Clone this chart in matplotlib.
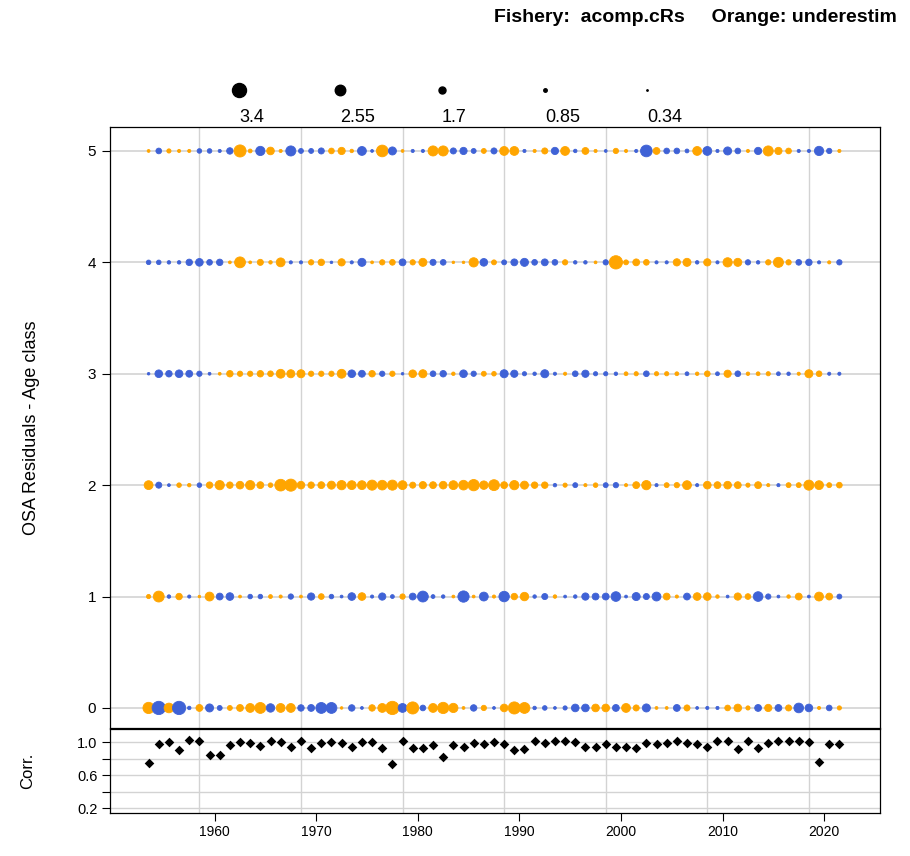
import numpy as np
import matplotlib.pyplot as plt

plt.rcParams['font.family'] = ['Liberation Sans', 'DejaVu Sans']

years = np.arange(1955, 2024)
ages = [0, 1, 2, 3, 4, 5]

# OSA residuals by age (positive = orange, negative = blue)
res_age0 = [2.7, -3.2, 2.3, -3.2, -0.7, 1.6, -1.9, -1.1, 1.1, 1.6,
            2.1, 2.6, -2.0, 2.1, 2.1, -1.5, -1.6, -2.6, -2.6, 0.4,
            -1.5, -0.5, 1.5, 2.1, 3.2, -2.1, 2.9, -1.3, 2.1, 2.7,
            2.2, 0.5, -1.5, 1.2, -0.5, 1.8, 2.9, 2.6, -0.7, -1.0,
            -0.5, -0.9, -1.8, -1.8, 1.8, 1.8, -1.6, 2.1, 1.4, -1.9,
            0.5, 0.5, -1.6, 1.4, -0.5, -0.6, -0.6, 1.3, 1.8, 0.9,
            -1.6, 1.7, -1.6, 1.4, -2.3, -1.8, 0.6, -1.3, 0.9]
res_age1 = [0.9, 2.6, -0.7, 1.5, -0.6, 0.4, 2.1, -1.6, -1.8, 0.5,
            -1.0, -1.0, 0.8, 0.6, -1.2, 0.5, -1.7, 1.3, -1.0, -0.5,
            -1.8, 1.8, -0.6, -1.7, -0.8, 1.2, -1.6, -2.6, -0.8, -0.7,
            0.5, -2.7, 0.5, -2.1, 0.6, -2.5, 1.5, 2.0, -0.7, -1.4,
            0.7, -0.5, -0.7, -1.7, -1.6, -1.6, -2.3, -0.5, -1.9, -1.4,
            -2.1, 1.6, 0.6, -1.6, 1.8, 1.8, 0.7, -0.5, 1.7, 1.3,
            -2.3, -1.2, -0.5, 0.7, 1.6, -0.5, 2.1, 1.6, -1.1]
res_age2 = [2.1, -1.4, -0.5, 1.0, 0.7, -1.0, 1.5, 2.2, 1.5, 1.8,
            2.2, 1.6, 1.0, 2.8, 2.9, 1.8, 1.5, 1.6, 1.9, 2.2,
            2.1, 2.1, 2.4, 2.3, 2.4, 2.1, 1.4, 1.7, 1.6, 1.8,
            2.1, 2.3, 2.7, 2.0, 2.6, 1.6, 2.2, 1.9, 1.5, 1.5,
            -0.7, 0.9, -1.1, 0.6, 1.0, -1.1, -1.2, 0.6, 1.6, 2.2,
            -0.6, 1.1, 1.2, 2.1, -0.6, 1.8, 1.6, 1.8, 1.6, 0.9,
            1.6, 0.6, -0.6, 1.1, 1.1, 2.4, 2.1, 1.1, 1.3]
res_age3 = [-0.4, -1.8, -1.5, -1.8, -1.6, -1.2, -0.5, 0.5, 1.5, 1.2,
            1.2, 1.5, 1.3, 2.1, 1.9, 1.9, 1.2, 1.2, 1.2, 2.1,
            -1.8, -1.6, 1.5, -1.2, 1.2, -0.4, 1.8, 1.9, -1.3, -1.5,
            0.7, -1.8, -1.2, 1.1, 1.0, -1.9, -1.7, -0.9, -0.7, -1.9,
            -0.6, 0.6, -1.3, -1.7, -0.9, -0.9, -0.7, 0.8, 0.9, -1.3,
            0.9, 0.9, 0.8, -0.8, 0.7, 1.3, -0.8, 1.7, -1.3, 0.7,
            0.8, 0.9, -0.8, -0.7, 0.6, 1.9, 1.3, -0.6, -0.6]
res_age4 = [-1.0, -1.0, -0.7, -0.7, -1.5, -1.8, -1.3, -1.5, 0.5, 2.6,
            0.5, 1.4, 0.7, 2.1, -0.6, -0.6, 1.2, 1.5, -0.4, 1.7,
            -0.6, -1.9, 0.5, 1.2, 1.3, -1.6, 1.2, 1.9, -1.4, -1.3,
            0.4, 0.4, 2.2, -1.8, 1.1, -1.1, -1.6, -1.9, -1.3, -1.6,
            -1.3, 1.2, -0.7, -0.7, 0.5, -1.2, 3.2, 1.1, 1.6, 1.3,
            -0.6, -0.6, 1.7, 1.9, -0.7, 1.7, -0.6, 2.2, 1.9, -1.2,
            -0.7, 1.2, 2.4, 1.2, -1.3, -1.5, -0.6, 0.6, -1.2]
res_age5 = [0.5, -1.3, 0.9, 0.6, 0.6, -1.0, -1.0, -0.6, -1.5, 2.9,
            0.8, -2.2, 1.8, 0.6, -2.4, -1.1, -1.1, -1.4, 1.3, 1.7,
            0.7, -2.1, -0.5, 2.8, -1.9, 0.5, -0.6, -0.6, 2.4, 2.4,
            -1.4, -1.7, -1.1, 1.1, -1.4, 2.1, 2.1, -0.6, 0.6, 1.4,
            -1.7, 2.1, -0.7, 1.6, 0.6, -0.5, 1.2, 0.6, -0.6, -2.8,
            1.6, -1.3, -1.3, -0.8, 2.1, -2.1, -0.6, -1.9, -1.3, 0.6,
            -1.7, 2.4, 1.7, 1.3, -0.6, -0.6, -2.2, -1.2, 0.6]

# correlation panel
corr = [0.75, 0.98, 1.00, 0.90, 1.03, 1.01, 0.84, 0.84, 0.96, 1.00,
        0.99, 0.95, 1.01, 1.00, 0.94, 1.01, 0.93, 0.99, 1.00, 0.99,
        0.94, 1.00, 1.00, 0.93, 0.74, 1.01, 0.93, 0.93, 0.96, 0.82,
        0.96, 0.94, 0.99, 0.98, 1.00, 0.98, 0.91, 0.92, 1.01, 0.99,
        1.01, 1.01, 1.00, 0.94, 0.94, 0.98, 0.94, 0.94, 0.93, 0.99,
        0.98, 0.99, 1.01, 0.99, 0.98, 0.94, 1.01, 1.01, 0.92, 1.02,
        0.93, 0.99, 1.01, 1.01, 1.01, 1.00, 0.76, 0.98, 0.98]

legend_vals = [3.4, 2.55, 1.7, 0.85, 0.34]
legend_labels = ["3.4", "2.55", "1.7", "0.85", "0.34"]

residuals = [res_age0, res_age1, res_age2, res_age3, res_age4, res_age5]

W, H = 910, 856
fig = plt.figure(figsize=(W / 100, H / 100), dpi=100)

def px_axes(x0, y0, x1, y1):
    return fig.add_axes([x0 / W, 1 - y1 / H, (x1 - x0) / W, (y1 - y0) / H])

ax = px_axes(110, 127, 880, 728)
axc = px_axes(110, 729, 880, 813)

BLUE = "#3F62D6"
ORANGE = "#FFA500"
GRID = "#D3D3D3"
k = 8.8  # scatter area per value^2

ax.set_xlim(1951.2, 2027.0)
ax.set_ylim(-0.18, 5.215)
for d in range(1960, 2030, 10):
    ax.axvline(d, color=GRID, lw=1, zorder=0)
for a in ages:
    ax.axhline(a, color=GRID, lw=1.2, zorder=0)

for a, r in zip(ages, residuals):
    r = np.array(r)
    cols = np.where(r > 0, ORANGE, BLUE)
    ax.scatter(years, np.full(len(years), a), s=k * r ** 2 + 2, c=cols,
               edgecolors=cols, linewidths=0.6, zorder=3)

ax.set_xticks([])
ax.set_yticks(ages)
ax.set_yticklabels([str(a) for a in ages], fontsize=11)
ax.tick_params(axis='y', length=6, width=0.8, pad=4)
for sp in ax.spines.values():
    sp.set_linewidth(0.9)
ax.set_ylabel("OSA Residuals - Age class", fontsize=13, labelpad=34)

# corr panel
axc.set_xlim(ax.get_xlim())
axc.set_ylim(0.14, 1.16)
for v in [0.2, 0.4, 0.6, 0.8, 1.0]:
    axc.axhline(v, color=GRID, lw=1, zorder=0)
for d in range(1960, 2030, 10):
    axc.axvline(d, color=GRID, lw=1, zorder=0)
axc.scatter(years, corr, marker='D', s=24, color='black', linewidths=0, zorder=3)
axc.set_yticks([0.2, 0.4, 0.6, 0.8, 1.0])
axc.set_yticklabels(["0.2", "", "0.6", "", "1.0"], fontsize=10.5)
axc.set_xticks(np.arange(1961.5, 2025, 10))
axc.set_xticklabels([str(d) for d in range(1960, 2030, 10)], fontsize=10)
axc.tick_params(length=6, width=0.8, pad=3)
for sp in axc.spines.values():
    sp.set_linewidth(0.9)
axc.set_ylabel("Corr.", fontsize=12, labelpad=30)

# bubble size legend
leg_x = [239, 340, 442, 545, 647]
for x, v, lab in zip(leg_x, legend_vals, legend_labels):
    fig.text(x / W, 1 - 118 / H, lab, fontsize=13, ha='left', va='center')
    fig.add_artist(plt.Line2D([x / W], [1 - 90 / H], marker='o', color='black',
                              markersize=np.sqrt(8.8) * v, linestyle='none',
                              transform=fig.transFigure))

# header text is cut at the right edge in the original figure
fig.text(494 / W, 1 - 18 / H, "Fishery:  acomp.cRs     Orange: underestim",
         fontsize=14, fontweight='bold', ha='left', va='center')

fig.savefig("out.png", dpi=100)
